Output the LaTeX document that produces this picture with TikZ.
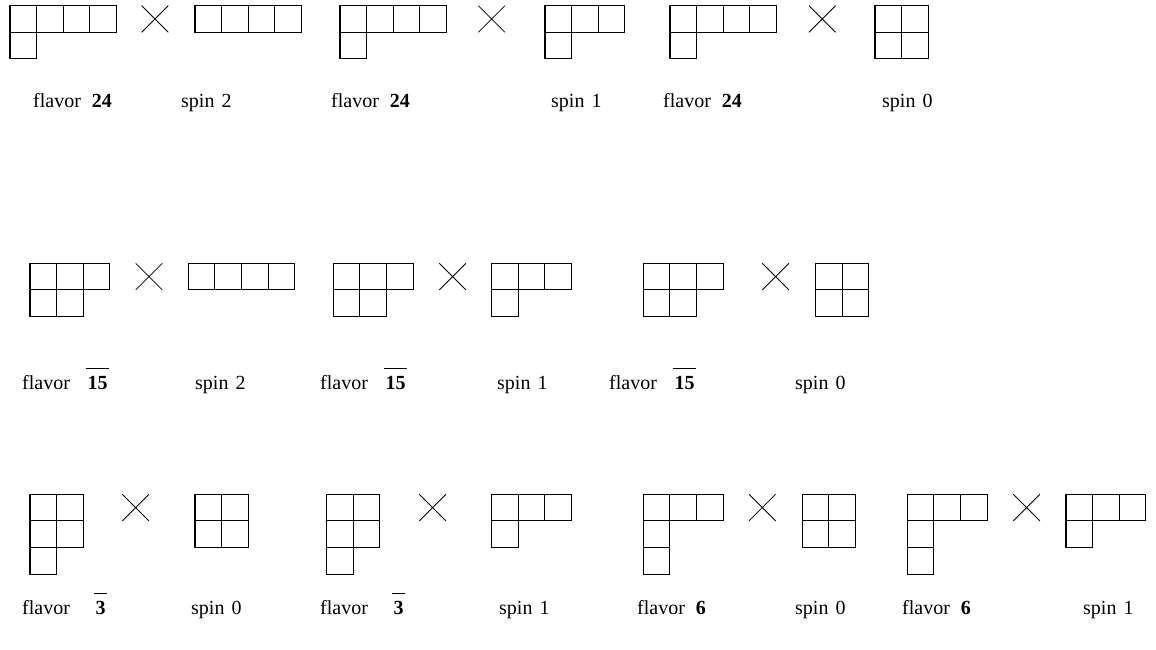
\documentclass[tikz,border=0pt]{standalone}
\usepackage{fontspec}
\setmainfont{Liberation Serif}
\newcommand\ydg[3]{%
  \foreach \rl [count=\ri from 0] in {#3} {
    \foreach \ci in {1,...,\rl} {
      \draw[box] ({#1+(\ci-1)*26.6},{#2+\ri*26.6}) rectangle ++(26.6,26.6);
    }
  }}
\newcommand\tms[2]{%
  \draw[crossline] (#1,#2) -- ++(26.6,26.6) (#1+26.6,#2) -- ++(-26.6,26.6);}
\newcommand\obar[1]{\ensuremath{\overline{\kern0.08em\rule{0pt}{0.95em}\textbf{#1}\kern0.08em}}}
\begin{document}
\begin{tikzpicture}[x=1pt,y=-1pt,
  box/.style={line width=1.1pt,black},
  crossline/.style={line width=0.8pt,black},
  lbl/.style={anchor=base west,inner sep=0pt,font=\fontsize{20}{22}\selectfont}]
\useasboundingbox (0,0) rectangle (1156,650);
% Row 1
\ydg{10}{5.7}{4,1}   \tms{141.7}{5.7}  \ydg{195}{5.7}{4}
\ydg{340}{5.7}{4,1}  \tms{478.3}{5.7}  \ydg{545}{5.7}{3,1}
\ydg{670}{5.7}{4,1}  \tms{809}{5.7}    \ydg{875}{5.7}{2,2}
\node[lbl] (f11) at (33,108) {flavor\hspace{0.55em}\textbf{24}};
\node[lbl] (s11) at (181,108) {spin\hspace{0.35em}2};
\node[lbl] (f12) at (331,108) {flavor\hspace{0.55em}\textbf{24}};
\node[lbl] (s12) at (551,108) {spin\hspace{0.35em}1};
\node[lbl] (f13) at (663,108) {flavor\hspace{0.55em}\textbf{24}};
\node[lbl] (s13) at (882,108) {spin\hspace{0.35em}0};
% Row 2
\ydg{30}{263.3}{3,2}    \tms{135.7}{263.3} \ydg{188.3}{263.3}{4}
\ydg{333.3}{263.3}{3,2} \tms{439.3}{263.3} \ydg{491.7}{263.3}{3,1}
\ydg{643.3}{263.3}{3,2} \tms{762.3}{263.3} \ydg{815.7}{263.3}{2,2}
\node[lbl] (f21) at (22,389) {flavor\hspace{0.8em}\obar{15}};
\node[lbl] (s21) at (195,389) {spin\hspace{0.35em}2};
\node[lbl] (f22) at (320,389) {flavor\hspace{0.8em}\obar{15}};
\node[lbl] (s22) at (497,389) {spin\hspace{0.35em}1};
\node[lbl] (f23) at (609,389) {flavor\hspace{0.8em}\obar{15}};
\node[lbl] (s23) at (795,389) {spin\hspace{0.35em}0};
% Row 3
\ydg{30}{494.3}{2,2,1}    \tms{122.3}{494.3} \ydg{195}{494.3}{2,2}
\ydg{326.7}{494.3}{2,2,1} \tms{419.3}{494.3} \ydg{491.7}{494.3}{3,1}
\ydg{643.3}{494.3}{3,1,1} \tms{749}{494.3}   \ydg{802.3}{494.3}{2,2}
\ydg{907.3}{494.3}{3,1,1} \tms{1013.3}{494.3} \ydg{1066}{494.3}{3,1}
\node[lbl] (f31) at (22,614) {flavor\hspace{1.2em}\obar{3}};
\node[lbl] (s31) at (191,614) {spin\hspace{0.35em}0};
\node[lbl] (f32) at (320,614) {flavor\hspace{1.2em}\obar{3}};
\node[lbl] (s32) at (499,614) {spin\hspace{0.35em}1};
\node[lbl] (f33) at (637,614) {flavor\hspace{0.55em}\textbf{6}};
\node[lbl] (s33) at (795,614) {spin\hspace{0.35em}0};
\node[lbl] (f34) at (902,614) {flavor\hspace{0.55em}\textbf{6}};
\node[lbl] (s34) at (1083,614) {spin\hspace{0.35em}1};
\end{tikzpicture}
\end{document}
